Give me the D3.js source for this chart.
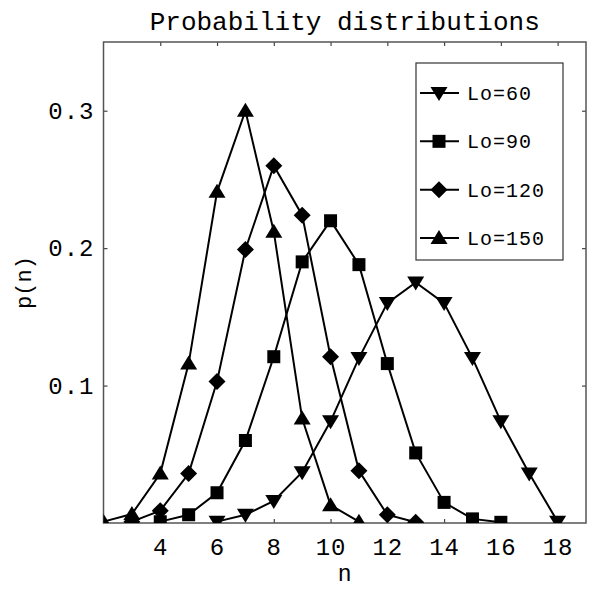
<!DOCTYPE html>
<html>
<head>
<meta charset="utf-8">
<script src="https://cdn.jsdelivr.net/npm/d3@7"></script>
<style>
  body { margin: 0; background: #fff; }
  text { font-family: "Liberation Mono", "DejaVu Sans Mono", monospace; fill: #000; }
</style>
</head>
<body>
<svg id="chart" width="589" height="589"></svg>
<script>
// values
var nLo60 = [6, 7, 8, 9, 10, 11, 12, 13, 14, 15, 16, 17, 18];
var pLo60 = [0.001, 0.006, 0.016, 0.037, 0.074, 0.120, 0.160, 0.175, 0.160, 0.120, 0.074, 0.036, 0.001];
var nLo90 = [4, 5, 6, 7, 8, 9, 10, 11, 12, 13, 14, 15, 16];
var pLo90 = [0.001, 0.006, 0.022, 0.060, 0.121, 0.190, 0.220, 0.188, 0.116, 0.051, 0.015, 0.003, 0.0005];
var nLo120 = [3, 4, 5, 6, 7, 8, 9, 10, 11, 12, 13];
var pLo120 = [0.001, 0.009, 0.036, 0.103, 0.199, 0.260, 0.224, 0.121, 0.038, 0.006, 0.0005];
var nLo150 = [2, 3, 4, 5, 6, 7, 8, 9, 10, 11];
var pLo150 = [0.001, 0.0065, 0.036, 0.116, 0.241, 0.300, 0.212, 0.076, 0.013, 0.001];

var seriesNames = ['Lo=60', 'Lo=90', 'Lo=120', 'Lo=150'];
var seriesMarks = ['down', 'square', 'diamond', 'up'];
var xTicks = [4, 6, 8, 10, 12, 14, 16, 18];
var yTicks = [0.1, 0.2, 0.3];

var liSeries = [
  {name: seriesNames[0], mark: seriesMarks[0], n: nLo60, p: pLo60},
  {name: seriesNames[1], mark: seriesMarks[1], n: nLo90, p: pLo90},
  {name: seriesNames[2], mark: seriesMarks[2], n: nLo120, p: pLo120},
  {name: seriesNames[3], mark: seriesMarks[3], n: nLo150, p: pLo150}
];

// frame edges (window.top is taken, so prefixed names)
var fLeft = 103.5, fRight = 586, fTop = 42, fBottom = 523;

var svg = d3.select('#chart');

var xScale = d3.scaleLinear().domain([2, 19]).range([fLeft, fRight]);
var yScale = d3.scaleLinear().domain([0, 0.35]).range([fBottom, fTop]);

function markerPath(kind){
  if(kind == 'up') return 'M0,-8L8.5,6L-8.5,6Z';
  if(kind == 'down') return 'M0,8L8.5,-6L-8.5,-6Z';
  if(kind == 'square') return 'M-6.5,-6.5H6.5V6.5H-6.5Z';
  return 'M0,-8.5L8.5,0L0,8.5L-8.5,0Z';
}

svg.append('defs').append('clipPath')
   .attr('id', 'plotclip')
   .append('rect')
   .attr('x', fLeft)
   .attr('y', fTop)
   .attr('width', fRight - fLeft)
   .attr('height', fBottom - fTop);

//title
svg.append('text')
   .attr('x', (fLeft + fRight) / 2)
   .attr('y', 30)
   .attr('text-anchor', 'middle')
   .style('font-size', '26px')
   .text('Probability  distributions');

//axes
var gx = svg.append('g')
   .attr('transform', 'translate(0,' + fBottom + ')')
   .call(d3.axisBottom(xScale).tickValues(xTicks).tickSize(-4).tickPadding(15));
var gxTop = svg.append('g')
   .attr('transform', 'translate(0,' + fTop + ')')
   .call(d3.axisTop(xScale).tickValues(xTicks).tickSize(-4).tickFormat(''));
var gy = svg.append('g')
   .attr('transform', 'translate(' + fLeft + ',0)')
   .call(d3.axisLeft(yScale).tickValues(yTicks).tickSize(-4).tickPadding(9).tickFormat(d3.format('.1f')));
var gyRight = svg.append('g')
   .attr('transform', 'translate(' + fRight + ',0)')
   .call(d3.axisRight(yScale).tickValues(yTicks).tickSize(-4).tickFormat(''));

[gx, gxTop, gy, gyRight].forEach(function(g){
  g.select('.domain').remove();
  g.selectAll('line').style('stroke', '#444').style('stroke-width', '1.2px');
  g.selectAll('text')
   .style('font-family', '"Liberation Mono", monospace')
   .style('font-size', '24px')
   .style('letter-spacing', '1px');
});

//frame
svg.append('rect')
   .attr('x', fLeft)
   .attr('y', fTop)
   .attr('width', fRight - fLeft)
   .attr('height', fBottom - fTop)
   .style('fill', 'none')
   .style('stroke', '#555')
   .style('stroke-width', '1.5px');

//axis labels
svg.append('text')
   .attr('x', (fLeft + fRight) / 2)
   .attr('y', 581)
   .attr('text-anchor', 'middle')
   .style('font-size', '23px')
   .text('n');
svg.append('text')
   .attr('transform', 'translate(31,' + ((fTop + fBottom) / 2) + ') rotate(-90)')
   .attr('text-anchor', 'middle')
   .style('font-size', '22px')
   .text('p(n)');

//series
var plot = svg.append('g').attr('clip-path', 'url(#plotclip)');
var line = d3.line()
   .x(function(d){ return xScale(d[0]); })
   .y(function(d){ return yScale(d[1]); });

for(var i = 0; i < liSeries.length; i ++){
  var s = liSeries[i];
  var pts = s.n.map(function(v, j){ return [v, s.p[j]]; });
  plot.append('path')
      .attr('d', line(pts))
      .style('fill', 'none')
      .style('stroke', '#000')
      .style('stroke-width', '2px');
  plot.selectAll('.m' + i)
      .data(pts)
      .enter()
      .append('path')
      .attr('class', 'm' + i)
      .attr('d', markerPath(s.mark))
      .attr('transform', function(d){ return 'translate(' + xScale(d[0]) + ',' + yScale(d[1]) + ')'; })
      .style('fill', '#000');
}

//legend
var legend = svg.append('g');
legend.append('rect')
   .attr('x', 416)
   .attr('y', 63)
   .attr('width', 147)
   .attr('height', 197)
   .style('fill', '#fff')
   .style('stroke', '#333')
   .style('stroke-width', '1.2px');

var legendY = d3.scaleLinear().domain([0, 3]).range([93, 238]);
for(var k = 0; k < liSeries.length; k ++){
  var ly = legendY(k);
  legend.append('line')
     .attr('x1', 420)
     .attr('x2', 459)
     .attr('y1', ly)
     .attr('y2', ly)
     .style('stroke', '#000')
     .style('stroke-width', '2px');
  legend.append('path')
     .attr('d', markerPath(liSeries[k].mark))
     .attr('transform', 'translate(439,' + ly + ')')
     .style('fill', '#000');
  legend.append('text')
     .attr('x', 467)
     .attr('y', ly + 7)
     .style('font-size', '20px')
     .style('letter-spacing', '1px')
     .text(liSeries[k].name);
}
</script>
</body>
</html>
